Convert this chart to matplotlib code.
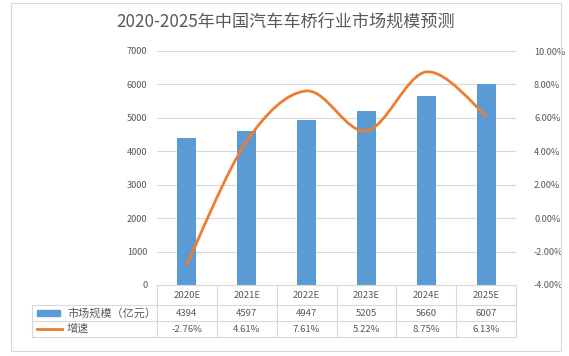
import matplotlib.pyplot as plt
import matplotlib.transforms as mtransforms
from matplotlib.path import Path
from matplotlib.patches import PathPatch, Rectangle
from matplotlib.ticker import FuncFormatter

plt.rcParams['font.family'] = ['Noto Sans CJK SC', 'DejaVu Sans']

years = ['2020E', '2021E', '2022E', '2023E', '2024E', '2025E']
market = [4394, 4597, 4947, 5205, 5660, 6007]
growth = [-2.76, 4.61, 7.61, 5.22, 8.75, 6.13]
growthLabels = ['-2.76%', '4.61%', '7.61%', '5.22%', '8.75%', '6.13%']

TITLE = '2020-2025年中国汽车车桥行业市场规模预测'
BAR_NAME = '市场规模（亿元）'
LINE_NAME = '增速'

BLUE = '#5B9BD5'
ORANGE = '#ED7D31'
TEXT = '#595959'
GRID = '#D9D9D9'
W, H = 569, 356

fig = plt.figure(figsize=(W / 100, H / 100), dpi=100)

# outer chart border
fig.patches.append(Rectangle((11 / W, 1 - 351 / H), 550 / W, 348 / H, transform=fig.transFigure,
                             fill=False, ec=GRID, lw=0.8))
fig.text(286 / W, 1 - 22 / H, TITLE, ha='center', va='center', fontsize=12.3, color=TEXT)

# main plot area
ax = fig.add_axes([157 / W, 1 - 285 / H, 359 / W, 234 / H])
xs = list(range(len(years)))
ax.bar(xs, market, width=0.32, color=BLUE, zorder=2)
ax.set_xlim(-0.5, len(years) - 0.5)
ax.set_ylim(0, 7000)
ax.set_yticks(range(0, 7001, 1000))
ax.set_xticks([])
ax.grid(axis='y', color=GRID, lw=0.8, zorder=0)
for s in ['left', 'right', 'top']:
    ax.spines[s].set_visible(False)
ax.spines['bottom'].set_color(GRID)
ax.tick_params(axis='y', length=0, pad=7, labelsize=6.6, labelcolor=TEXT)

ax2 = ax.twinx()
ax2.set_ylim(-4, 10)
ax2.set_yticks(range(-4, 11, 2))
ax2.yaxis.set_major_formatter(FuncFormatter(lambda v, p: f"{v:.2f}%"))
ax2.tick_params(axis='y', length=0, pad=13, labelsize=6.6, labelcolor=TEXT)
for s in ax2.spines.values():
    s.set_visible(False)

# smoothed growth line (Bezier through the data points, like Excel's smooth line)
pts = list(zip(xs, growth))
n = len(pts)
verts = [pts[0]]
codes = [Path.MOVETO]
for i in range(n - 1):
    p0 = pts[i]
    p1 = pts[i + 1]
    pm = pts[i - 1] if i > 0 else p0
    pn = pts[i + 2] if i + 2 < n else p1
    c1 = (p0[0] + (p1[0] - pm[0]) / 6, p0[1] + (p1[1] - pm[1]) / 6)
    c2 = (p1[0] - (pn[0] - p0[0]) / 6, p1[1] - (pn[1] - p0[1]) / 6)
    verts += [c1, c2, p1]
    codes += [Path.CURVE4] * 3
ax2.add_patch(PathPatch(Path(verts, codes), fill=False, ec=ORANGE, lw=2.0, capstyle='round', zorder=3))

# data table below the plot
tab = fig.add_axes([0, 0, 1, 1], zorder=-1)
tab.set_xlim(0, W)
tab.set_ylim(H, 0)
tab.axis('off')
bt = mtransforms.blended_transform_factory(ax.transData, tab.transData)

LEFT, RIGHT = 32, 516
rowTops = [285, 305, 321, 337]
lineKw = dict(color=GRID, lw=0.8)
for y in rowTops[1:]:
    tab.plot([LEFT, RIGHT], [y, y], **lineKw)
tab.plot([LEFT, LEFT], [rowTops[1], rowTops[3]], **lineKw)
for i in range(len(years) + 1):
    tab.plot([i - 0.5, i - 0.5], [rowTops[0], rowTops[3]], transform=bt, **lineKw)

rowMid = [(a + b) / 2 for a, b in zip(rowTops[:-1], rowTops[1:])]
for i, yr in enumerate(years):
    tab.text(i, rowMid[0], yr, transform=bt, ha='center', va='center', fontsize=6.9, color=TEXT)
    tab.text(i, rowMid[1], str(market[i]), transform=bt, ha='center', va='center', fontsize=6.9, color=TEXT)
    tab.text(i, rowMid[2], growthLabels[i], transform=bt, ha='center', va='center', fontsize=6.9, color=TEXT)

tab.add_patch(Rectangle((37, rowMid[1] - 3), 23, 6, color=BLUE))
tab.plot([37, 62], [rowMid[2], rowMid[2]], color=ORANGE, lw=2.0)
tab.text(67, rowMid[1], BAR_NAME, ha='left', va='center', fontsize=8, color=TEXT)
tab.text(67, rowMid[2], LINE_NAME, ha='left', va='center', fontsize=8, color=TEXT)

fig.savefig('out.png', dpi=100)
